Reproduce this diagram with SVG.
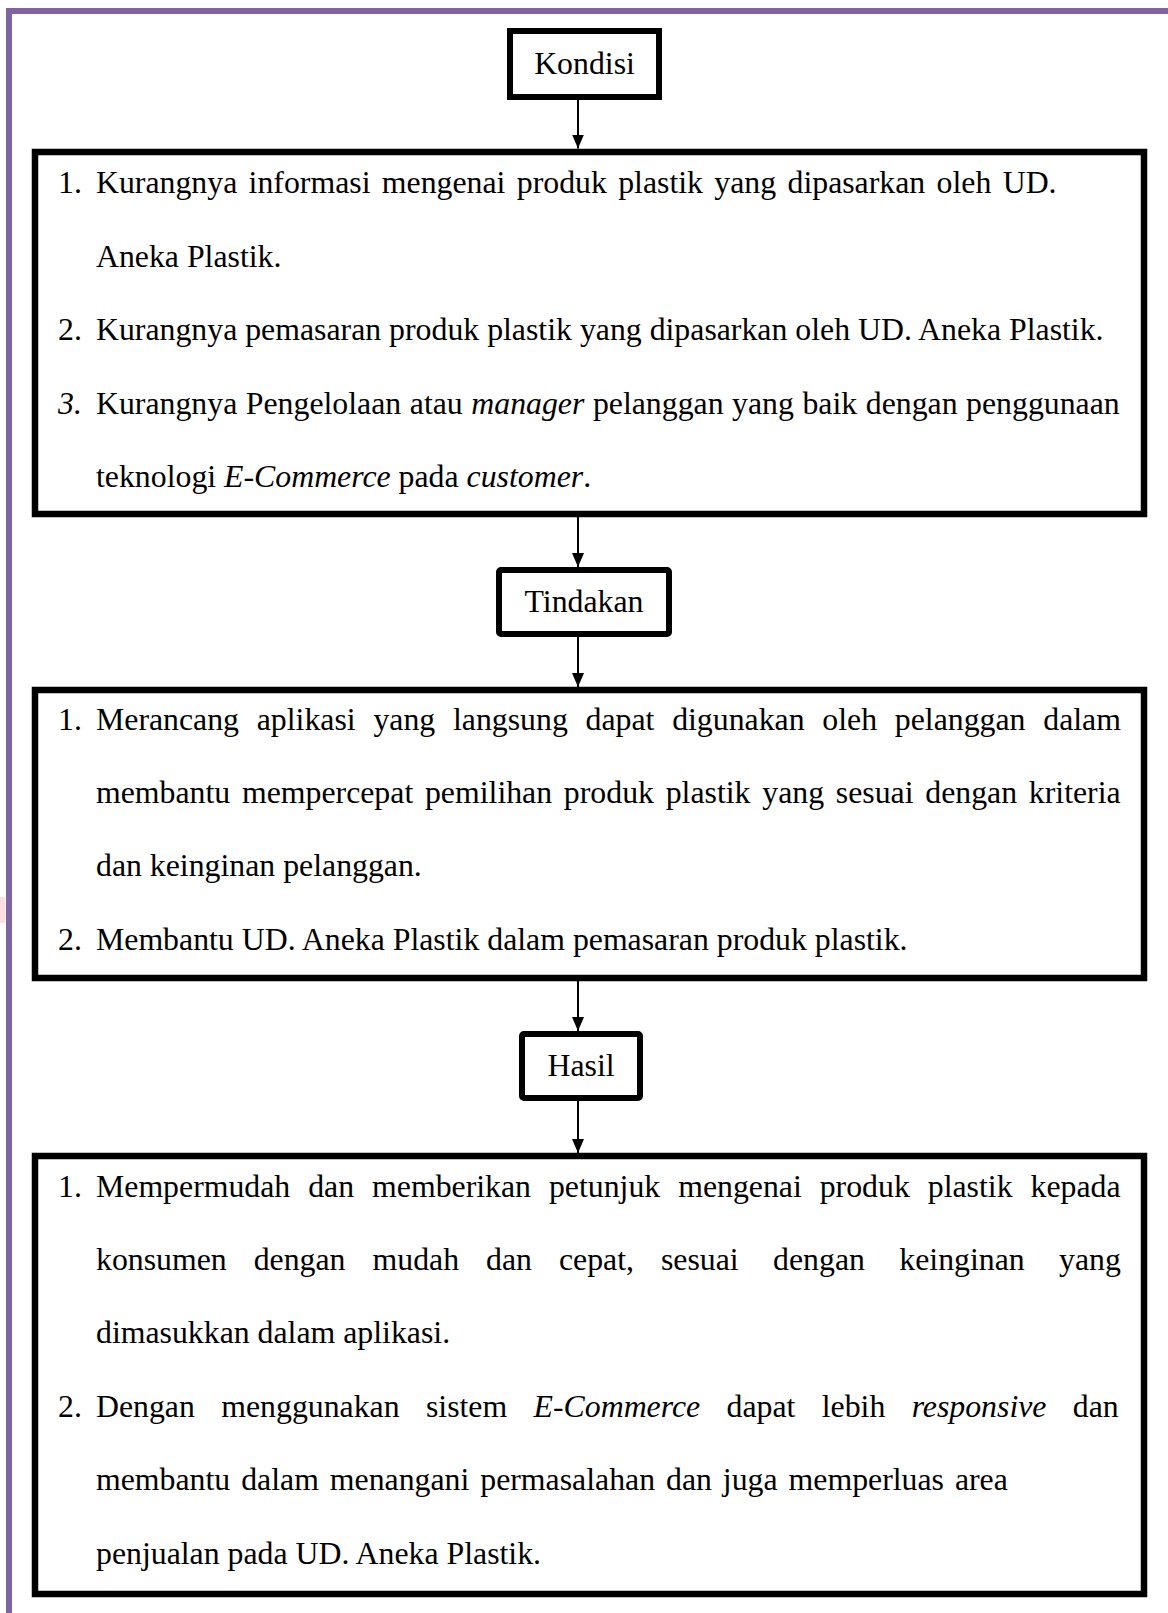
<svg xmlns="http://www.w3.org/2000/svg" width="1168" height="1613" viewBox="0 0 1168 1613">
<defs>
<style>
.t{font-family:"Liberation Serif","Times New Roman",serif;font-size:31.8px;fill:#000}
.c{text-anchor:middle}
.i{font-style:italic}
.box{fill:#fff;stroke:#000;stroke-width:6.5}
.lab{fill:#fff;stroke:#000;stroke-width:6}
.con{stroke:#000;stroke-width:2;fill:none}
</style>
<marker id="ah" viewBox="0 0 14 12" refX="14" refY="6" markerWidth="14" markerHeight="12" markerUnits="userSpaceOnUse" orient="auto">
<path d="M0,0 L14,6 L0,12 Z" fill="#000"/>
</marker>
</defs>
<rect width="1168" height="1613" fill="#fff"/>
<g id="page-border">
<rect x="6" y="8" width="1162" height="6" fill="#8064A2"/>
<rect x="6" y="8" width="6" height="1605" fill="#8064A2"/>
<rect x="0" y="897" width="5" height="26" fill="#ffdde0"/>
</g>
<g id="connectors">
<line class="con" x1="578" y1="100" x2="578" y2="148.5" marker-end="url(#ah)"/>
<line class="con" x1="578" y1="517" x2="578" y2="567" marker-end="url(#ah)"/>
<line class="con" x1="578" y1="637" x2="578" y2="687" marker-end="url(#ah)"/>
<line class="con" x1="578" y1="981" x2="578" y2="1031" marker-end="url(#ah)"/>
<line class="con" x1="578" y1="1101" x2="578" y2="1153" marker-end="url(#ah)"/>
</g>
<g id="node-kondisi">
<rect class="lab" x="510" y="31" width="149" height="66"/>
<text class="t c" x="584.5" y="74">Kondisi</text>
</g>
<g id="node-kondisi-list">
<rect class="box" x="35" y="152" width="1109" height="362"/>
<text class="t" x="58" y="193">1.</text>
<text class="t" x="96" y="193" style="word-spacing:3.4px">Kurangnya informasi mengenai produk plastik yang dipasarkan oleh UD.</text>
<text class="t" x="96" y="267">Aneka Plastik.</text>
<text class="t" x="58" y="340">2.</text>
<text class="t" x="96" y="340">Kurangnya pemasaran produk plastik yang dipasarkan oleh UD. Aneka Plastik.</text>
<text class="t i" x="58" y="414">3.</text>
<text class="t" x="96" y="414" style="word-spacing:0.6px">Kurangnya Pengelolaan atau <tspan class="i">manager</tspan> pelanggan yang baik dengan penggunaan</text>
<text class="t" x="96" y="487">teknologi <tspan class="i">E-Commerce</tspan> pada <tspan class="i">customer</tspan>.</text>
</g>
<g id="node-tindakan">
<rect class="lab" x="499" y="570" width="170" height="64" rx="2"/>
<text class="t c" x="584" y="612">Tindakan</text>
</g>
<g id="node-tindakan-list">
<rect class="box" x="35" y="690" width="1109" height="288"/>
<text class="t" x="58" y="730">1.</text>
<text class="t" x="96" y="730" style="word-spacing:9.8px">Merancang aplikasi yang langsung dapat digunakan oleh pelanggan dalam</text>
<text class="t" x="96" y="803" style="word-spacing:3.8px">membantu mempercepat pemilihan produk plastik yang sesuai dengan kriteria</text>
<text class="t" x="96" y="876">dan keinginan pelanggan.</text>
<text class="t" x="58" y="950">2.</text>
<text class="t" x="96" y="950">Membantu UD. Aneka Plastik dalam pemasaran produk plastik.</text>
</g>
<g id="node-hasil">
<rect class="lab" x="522" y="1034" width="118" height="64" rx="2"/>
<text class="t c" x="581" y="1076">Hasil</text>
</g>
<g id="node-hasil-list">
<rect class="box" x="35" y="1156" width="1109" height="438"/>
<text class="t" x="58" y="1197">1.</text>
<text class="t" x="96" y="1197" style="word-spacing:10px">Mempermudah dan memberikan petunjuk mengenai produk plastik kepada</text>
<text class="t" y="1270"><tspan x="96">konsumen</tspan><tspan x="253.7">dengan</tspan><tspan x="372.5">mudah</tspan><tspan x="486.1">dan</tspan><tspan x="559">cepat,</tspan><tspan x="661">sesuai</tspan><tspan x="773.1">dengan</tspan><tspan x="899.3">keinginan</tspan><tspan x="1059.1">yang</tspan></text>
<text class="t" x="96" y="1343">dimasukkan dalam aplikasi.</text>
<text class="t" x="58" y="1417">2.</text>
<text class="t" x="96" y="1417" style="word-spacing:18.4px">Dengan menggunakan sistem <tspan class="i">E-Commerce</tspan> dapat lebih <tspan class="i">responsive</tspan> dan</text>
<text class="t" x="96" y="1490" style="word-spacing:3px">membantu dalam menangani permasalahan dan juga memperluas area</text>
<text class="t" x="96" y="1564">penjualan pada UD. Aneka Plastik.</text>
</g>
</svg>
